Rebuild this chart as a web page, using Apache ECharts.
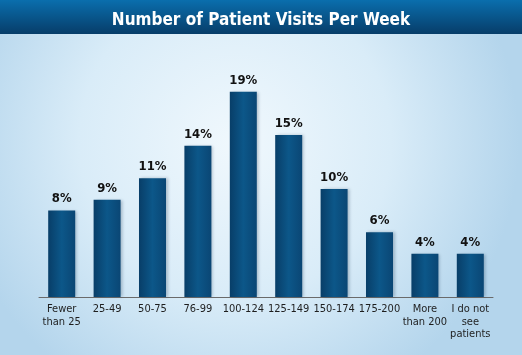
<!DOCTYPE html>
<html><head><meta charset="utf-8">
<script src="https://cdn.jsdelivr.net/npm/echarts@6/dist/echarts.min.js"></script>
<style>html,body{margin:0;padding:0;}#c{width:522px;height:355px;}</style>
</head><body><div id="c"></div>
<script>
const categories = ['Fewer\nthan 25','25-49','50-75','76-99','100-124','125-149','150-174','175-200','More\nthan 200','I do not\nsee\npatients'];
const values = [8, 9, 11, 14, 19, 15, 10, 6, 4, 4];
const titleText = 'Number of Patient Visits Per Week';
const FONT = '"Liberation Sans Narrow", "DejaVu Sans Condensed", sans-serif';
const chart = echarts.init(document.getElementById('c'));
chart.setOption({
  animation: false,
  backgroundColor: new echarts.graphic.RadialGradient(0.45, 0.4, 0.8, [
    {offset: 0, color: '#f0f8fd'},
    {offset: 0.55, color: '#d9ecf8'},
    {offset: 1, color: '#b4d5ec'}
  ]),
  graphic: [{
    type: 'rect', left: 0, top: 0, z: 0,
    shape: {width: 522, height: 34},
    style: {fill: new echarts.graphic.LinearGradient(0,0,0,1,[
      {offset:0,color:'#0a6ead'},{offset:1,color:'#073d69'}])}
  }],
  title: {
    text: titleText, left: 'center', top: 7,
    textStyle: {color: '#ffffff', fontFamily: FONT, fontWeight: 'bold', fontSize: 17}
  },
  grid: {left: 39, right: 29, top: 81, bottom: 58},
  xAxis: {
    type: 'category', data: categories,
    axisLine: {lineStyle: {color: '#6a6a6a', width: 1}},
    axisTick: {show: false},
    axisLabel: {color: '#1e1e1e', fontFamily: FONT, fontSize: 11, lineHeight: 12.5, margin: 6, interval: 0}
  },
  yAxis: {type: 'value', min: 0, max: 20, show: false, splitLine: {show: false}},
  series: [{
    type: 'bar', data: values, barWidth: 27,
    itemStyle: {
      color: new echarts.graphic.LinearGradient(0,0,1,0,[
        {offset:0,color:'#083e68'},{offset:0.5,color:'#0c5789'},{offset:1,color:'#0a4674'}]),
      shadowColor: 'rgba(0,30,60,0.25)', shadowBlur: 3, shadowOffsetX: 2
    },
    label: {
      show: true, position: 'top', distance: 5, formatter: '{c}%',
      color: '#111', fontFamily: FONT, fontWeight: 'bold', fontSize: 13
    }
  }]
});
</script></body></html>
